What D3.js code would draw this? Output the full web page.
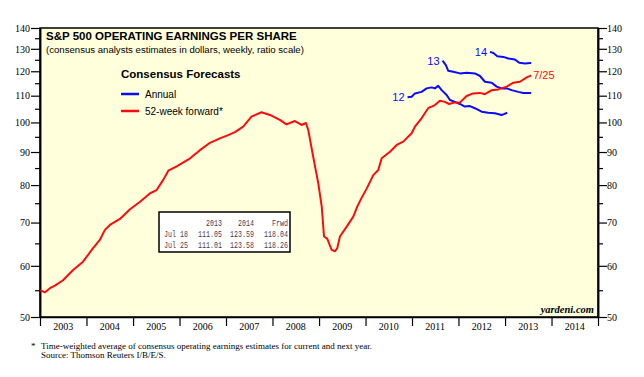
<!DOCTYPE html>
<html>
<head>
<meta charset="utf-8">
<script src="https://cdn.jsdelivr.net/npm/d3@7"></script>
<style>
  body { margin: 0; background: #fff; }
  svg { display: block; }
</style>
</head>
<body>
<div id="chart"></div>
<script>
// 52-week forward consensus EPS
const fwdDates = ["2003-01-03","2003-02-10","2003-03-20","2003-04-28","2003-07-01","2003-09-18","2003-12-05",
  "2004-02-22","2004-04-15","2004-05-25","2004-07-03","2004-09-20","2004-12-08",
  "2005-02-25","2005-05-15","2005-07-05","2005-08-26","2005-10-05","2005-12-10",
  "2006-03-25","2006-06-10","2006-08-28","2006-11-14",
  "2007-01-18","2007-03-12","2007-05-16","2007-07-20","2007-10-07","2007-12-12",
  "2008-02-28","2008-04-20","2008-06-25","2008-08-17","2008-09-20","2008-10-08","2008-11-16","2008-12-26",
  "2009-01-22","2009-02-09","2009-03-06","2009-04-10","2009-05-06","2009-05-24","2009-06-14","2009-08-06","2009-09-27","2009-10-28","2009-12-02",
  "2010-01-10","2010-03-03","2010-04-11","2010-05-08","2010-07-12","2010-09-03","2010-10-24","2010-12-29",
  "2011-01-24","2011-03-17","2011-05-08","2011-06-30","2011-08-08","2011-09-16","2011-10-20","2011-12-04",
  "2012-01-12","2012-03-05","2012-04-26","2012-06-18","2012-07-27","2012-09-18","2012-11-08",
  "2013-01-14","2013-03-07","2013-04-28","2013-06-20","2013-07-18","2013-07-25"];
const fwdEps = [55.0,54.6,55.4,55.9,57.0,59.1,60.9,
  63.9,65.8,68.2,69.4,70.9,73.4,
  75.4,77.7,78.6,81.5,84.2,85.5,
  88.0,90.6,93.0,94.5,
  95.6,96.6,98.5,102.1,103.7,102.7,
  100.9,99.3,100.5,99.1,99.8,97.4,88.5,80.5,
  74.1,66.6,66.1,63.5,63.2,63.9,66.6,69.0,71.5,74.1,76.5,
  79.0,82.9,84.4,88.0,90.1,92.3,93.4,96.2,
  98.5,101.5,105.2,106.4,108.0,107.6,106.8,107.4,
  107.3,109.9,110.9,111.1,110.6,112.2,112.5,
  113.6,115.2,115.6,117.4,118.04,118.26];

// annual consensus estimates
const est12Dates = ["2010-11-27","2010-12-29","2011-01-24","2011-03-17","2011-04-26","2011-06-04","2011-06-30","2011-07-26",
  "2011-08-22","2011-09-30","2011-10-26","2011-12-04","2012-01-12","2012-02-20","2012-03-31","2012-05-09",
  "2012-07-01","2012-08-22","2012-10-13","2012-12-05","2012-12-23","2013-01-18"];
const est12Eps = [109.4,109.6,110.9,111.5,112.9,113.3,112.9,113.9,
  112.2,110.3,108.3,107.6,106.8,105.8,106.0,105.2,
  103.9,103.5,103.3,102.7,103.0,103.5];

const est13Dates = ["2011-08-29","2011-09-24","2011-10-13","2011-11-21","2012-01-12","2012-03-05","2012-05-09","2012-06-18",
  "2012-07-27","2012-09-18","2012-10-27","2012-12-05","2013-01-14","2013-02-22","2013-04-15","2013-05-24","2013-07-18","2013-07-25"];
const est13Eps = [124.6,122.7,120.2,119.8,119.1,119.4,119.1,118.0,
  115.6,115.2,113.6,112.9,112.9,112.2,111.5,111.1,111.05,111.01];

const est14Dates = ["2012-09-05","2012-10-01","2012-11-01","2012-12-18","2013-01-27","2013-03-20","2013-04-23","2013-06-07","2013-07-18","2013-07-25"];
const est14Eps = [128.6,128.1,126.6,126.3,125.6,125.1,123.7,123.4,123.59,123.58];

const years = d3.range(2003, 2015);
const yMajor = [50, 60, 70, 80, 90, 100, 110, 120, 130, 140];
const yMinor = [55, 65, 75, 85, 95, 105, 115, 125, 135];

const tableHead = ["", "2013", "2014", "Frwd"];
const tableRows = [["Jul 18", "111.05", "123.59", "118.04"],
                   ["Jul 25", "111.01", "123.58", "118.26"]];

const width = 644, height = 377;
const margin = { left: 40, right: 598, top: 28, bottom: 317 };
const parse = d3.timeParse("%Y-%m-%d");

const svg = d3.select("#chart").append("svg")
    .attr("width", width)
    .attr("height", height);

const xScale = d3.scaleTime()
    .domain([new Date(2003, 0, 1), new Date(2015, 0, 1)])
    .range([margin.left, margin.right]);
const yScale = d3.scaleLog()
    .domain([50, 140])
    .range([margin.bottom, margin.top]);

// plot background
svg.append("rect")
    .attr("x", margin.left).attr("y", margin.top)
    .attr("width", margin.right - margin.left).attr("height", margin.bottom - margin.top)
    .attr("fill", "#ffffdc")
    .attr("stroke", "#000")
    .attr("stroke-width", 1.5);

// y axes, both sides
const serif = "'Liberation Serif', 'DejaVu Serif', serif";
const yAxisL = svg.append("g").attr("transform", `translate(${margin.left},0)`);
const yAxisR = svg.append("g").attr("transform", `translate(${margin.right},0)`);

yAxisL.call(d3.axisLeft(yScale).tickValues(yMajor).tickFormat(d3.format("d")).tickSize(9).tickSizeOuter(0));
yAxisR.call(d3.axisRight(yScale).tickValues(yMajor).tickFormat(d3.format("d")).tickSize(9).tickSizeOuter(0));
yAxisL.append("g").call(d3.axisLeft(yScale).tickValues(yMinor).tickFormat("").tickSize(5).tickSizeOuter(0));
yAxisR.append("g").call(d3.axisRight(yScale).tickValues(yMinor).tickFormat("").tickSize(5).tickSizeOuter(0));

[yAxisL, yAxisR].forEach(a => {
    a.selectAll(".domain").attr("stroke-width", 1.5);
    a.selectAll("line").attr("stroke-width", 1.2);
    a.selectAll("text").style("font-family", serif).style("font-size", "10px").attr("fill", "#000");
});
yAxisL.selectAll("text").attr("x", -10);
yAxisR.selectAll("text").attr("x", 9);

// x axis: ticks at year boundaries, labels mid-year
const xAxis = svg.append("g").attr("transform", `translate(0,${margin.bottom})`);
xAxis.call(d3.axisBottom(xScale)
    .tickValues(years.concat([2015]).map(y => new Date(y, 0, 1)))
    .tickFormat("").tickSize(9).tickSizeOuter(0));
xAxis.selectAll(".domain").attr("stroke-width", 1.5);
xAxis.selectAll("line").attr("stroke-width", 1.2);
xAxis.selectAll(".yr")
    .data(years)
    .enter().append("text")
    .attr("class", "yr")
    .attr("x", d => xScale(new Date(d, 6, 2)))
    .attr("y", 13)
    .attr("text-anchor", "middle")
    .attr("fill", "#000")
    .style("font-family", serif)
    .style("font-size", "10px")
    .text(d => d);

// title
svg.append("text")
    .attr("x", 46).attr("y", 40)
    .style("font-family", "'Liberation Sans', Arial, sans-serif")
    .style("font-size", "11.5px")
    .style("font-weight", "bold")
    .text("S&P 500 OPERATING EARNINGS PER SHARE");
svg.append("text")
    .attr("x", 46).attr("y", 53)
    .style("font-family", "'Liberation Sans', Arial, sans-serif")
    .style("font-size", "9.6px")
    .text("(consensus analysts estimates in dollars, weekly, ratio scale)");

// lines
const line = d3.line()
    .x(d => xScale(d[0]))
    .y(d => yScale(d[1]));

function series(dates, vals) {
    return dates.map((d, i) => [parse(d), vals[i]]);
}

const blue = "#0a0aff", red = "#ff0a0a";
[[est12Dates, est12Eps], [est13Dates, est13Eps], [est14Dates, est14Eps]].forEach(s => {
    svg.append("path")
        .attr("fill", "none")
        .attr("stroke", blue)
        .attr("stroke-width", 2)
        .attr("stroke-linejoin", "round")
        .attr("d", line(series(s[0], s[1])));
});
svg.append("path")
    .attr("fill", "none")
    .attr("stroke", red)
    .attr("stroke-width", 2)
    .attr("stroke-linejoin", "round")
    .attr("d", line(series(fwdDates, fwdEps)));

// series labels
const labFont = "'Liberation Sans', Arial, sans-serif";
const seriesLabels = [
    { t: "12", d: est12Dates[0], v: est12Eps[0], c: blue, dx: -3, anchor: "end" },
    { t: "13", d: est13Dates[0], v: est13Eps[0], c: blue, dx: -3, anchor: "end" },
    { t: "14", d: est14Dates[0], v: est14Eps[0], c: blue, dx: -3, anchor: "end" },
    { t: "7/25", d: fwdDates[fwdDates.length - 1], v: fwdEps[fwdEps.length - 1], c: red, dx: 2, anchor: "start" }
];
svg.selectAll(".slab")
    .data(seriesLabels)
    .enter().append("text")
    .attr("class", "slab")
    .attr("x", d => xScale(parse(d.d)) + d.dx)
    .attr("y", d => yScale(d.v) + 4)
    .attr("text-anchor", d => d.anchor)
    .attr("fill", d => d.c)
    .style("font-family", labFont)
    .style("font-size", "11px")
    .text(d => d.t);

// legend
const legend = svg.append("g").attr("transform", "translate(121,78)");
legend.append("text")
    .style("font-family", labFont)
    .style("font-size", "11.5px")
    .style("font-weight", "bold")
    .text("Consensus Forecasts");
[["Annual", blue], ["52-week forward*", red]].forEach((d, i) => {
    const row = legend.append("g").attr("transform", `translate(0,${16 + i * 17})`);
    row.append("line")
        .attr("x1", 0).attr("x2", 18)
        .attr("y1", 0).attr("y2", 0)
        .attr("stroke", d[1])
        .attr("stroke-width", 2.5);
    row.append("text")
        .attr("x", 24).attr("y", 4)
        .style("font-family", labFont)
        .style("font-size", "10px")
        .text(d[0]);
});

// data table
const table = svg.append("g").attr("transform", "translate(159,212)");
table.append("rect")
    .attr("width", 131).attr("height", 40)
    .attr("fill", "#fff")
    .attr("stroke", "#000")
    .attr("stroke-width", 1.5);
const colX = [5, 63, 95, 129];
[tableHead].concat(tableRows).forEach((r, i) => {
    r.forEach((c, j) => {
        if (!c) return;
        table.append("text")
            .attr("x", colX[j])
            .attr("y", 14 + i * 11)
            .attr("text-anchor", j === 0 ? "start" : "end")
            .attr("fill", "#4a3a55")
            .attr("textLength", c.length * 4)
            .attr("lengthAdjust", "spacingAndGlyphs")
            .style("font-family", "'Liberation Mono', 'DejaVu Sans Mono', monospace")
            .style("font-size", "9.5px")
            .text(c);
    });
});

// watermark
svg.append("text")
    .attr("x", 594).attr("y", 313)
    .attr("text-anchor", "end")
    .style("font-family", serif)
    .style("font-size", "10.5px")
    .style("font-weight", "bold")
    .style("font-style", "italic")
    .text("yardeni.com");

// footnote
const foot = svg.append("g")
    .style("font-family", serif)
    .style("font-size", "9px");
foot.append("text").attr("x", 31).attr("y", 349).text("*");
foot.append("text").attr("x", 41).attr("y", 349)
    .text("Time-weighted average of consensus operating earnings estimates for current and next year.");
foot.append("text").attr("x", 41).attr("y", 358)
    .text("Source: Thomson Reuters I/B/E/S.");
</script>
</body>
</html>
